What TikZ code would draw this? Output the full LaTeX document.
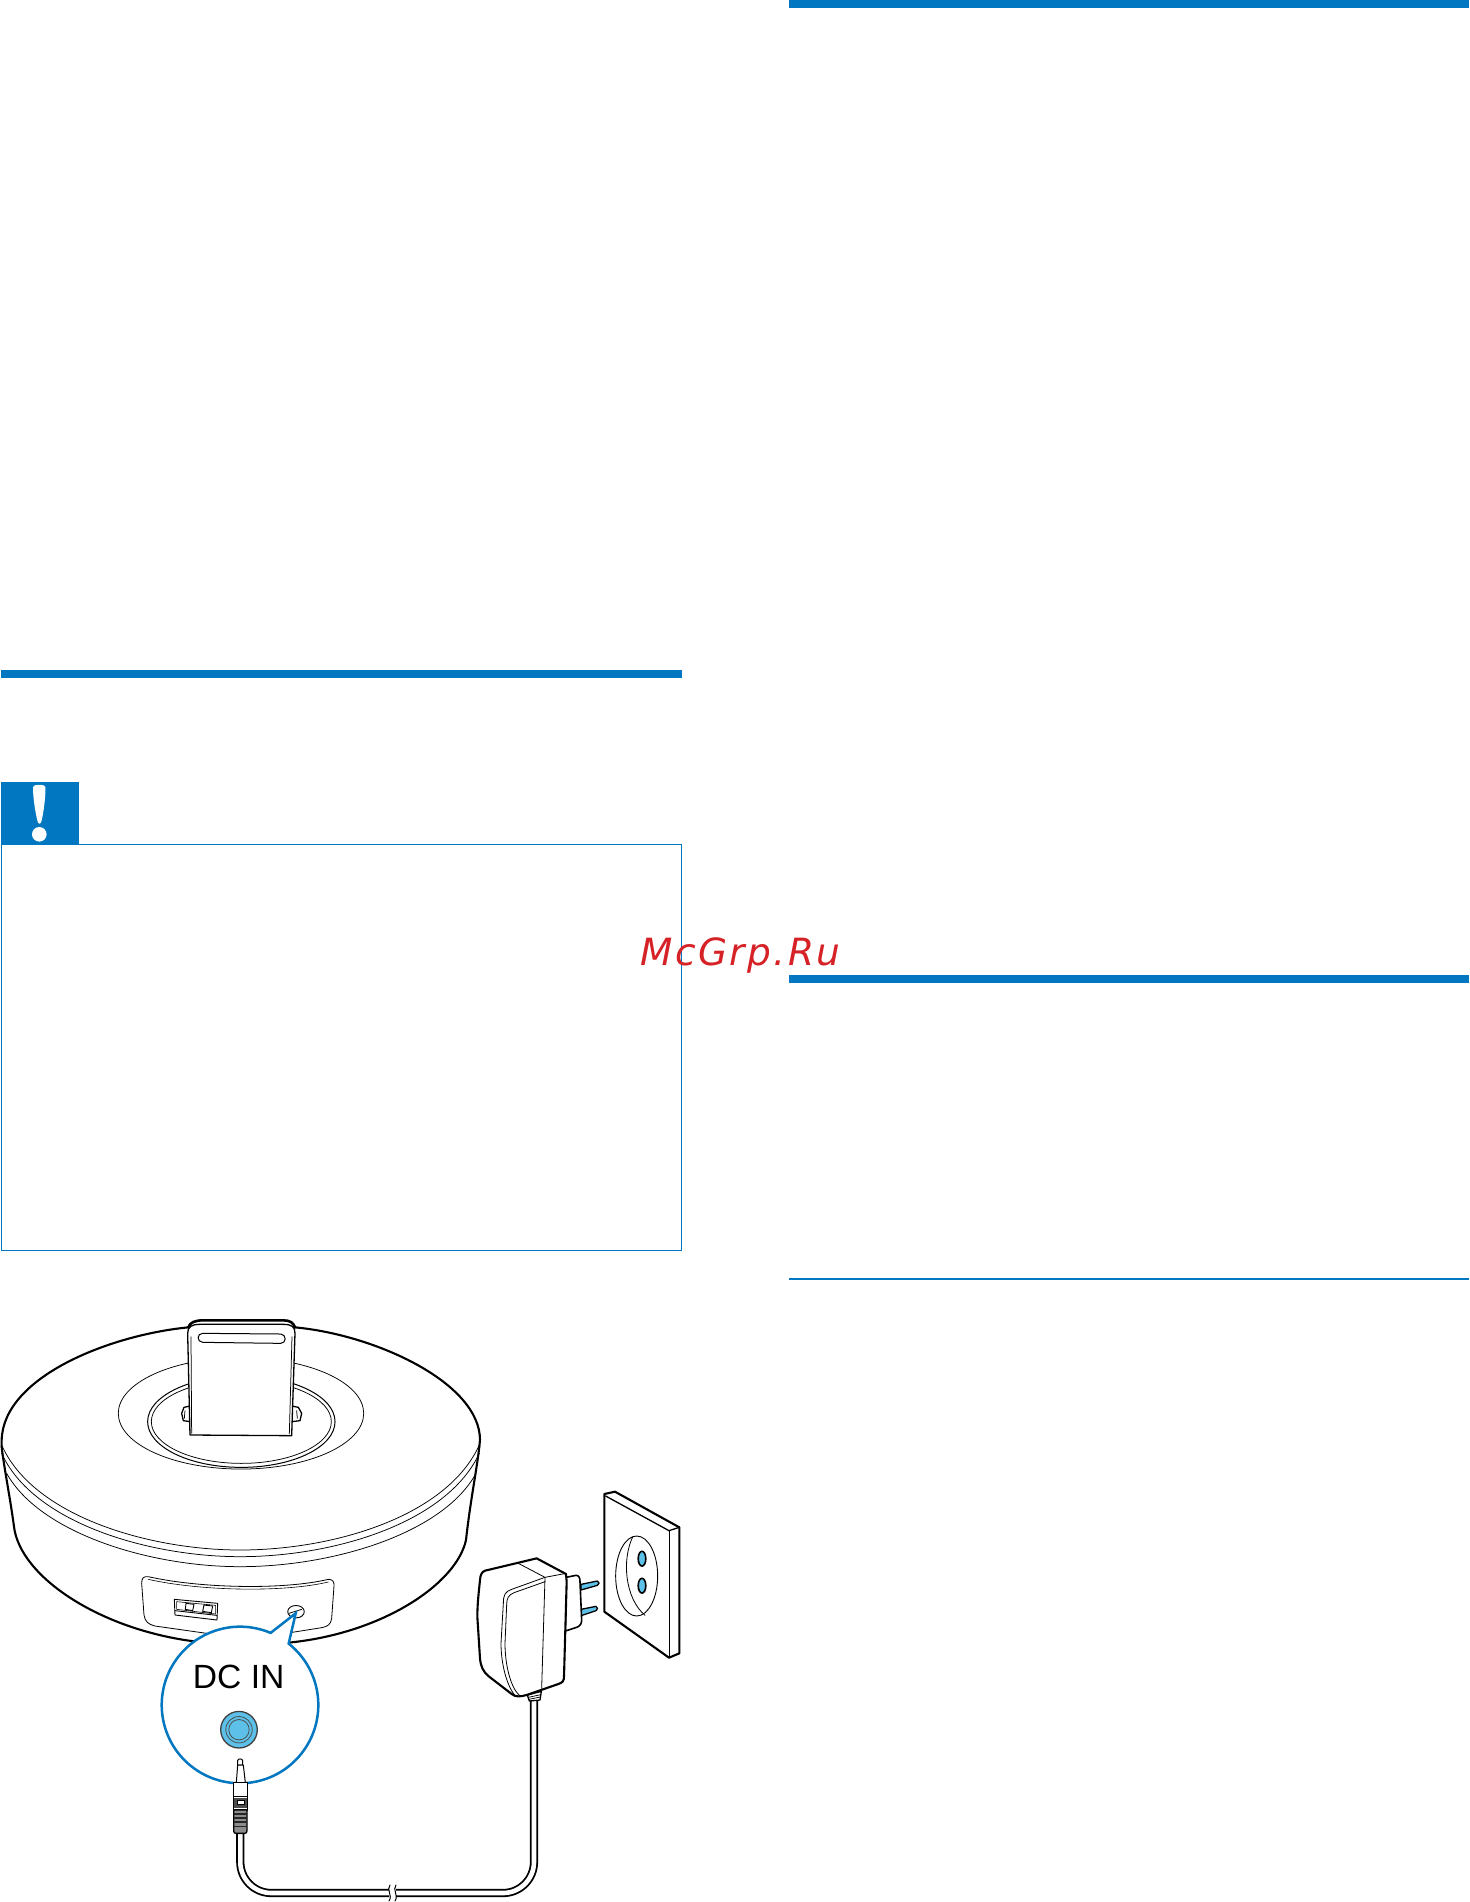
\documentclass[tikz,border=0pt]{standalone}
\usepackage{fontspec}
\setmainfont{Liberation Sans}
\newfontfamily\wmfont[LetterSpace=6.3]{DejaVu Sans}
\definecolor{pblue}{RGB}{0,119,192}
\definecolor{lblue}{RGB}{92,192,232}
\definecolor{wmred}{RGB}{214,34,38}
\tikzset{
  heavy/.style={line width=2.1pt,line join=round,line cap=round},
  medium/.style={line width=1.3pt,line join=round,line cap=round},
  fine/.style={line width=0.75pt,line join=round,line cap=round},
  barfill/.style={fill=pblue,draw=none},
  rule/.style={draw=pblue,line width=1pt},
  cablepath/.style={line width=1.8pt,double=white,double distance=4.6pt,rounded corners=31pt},
  cropA/.style={x=0.33333pt,y=-0.33333pt,shift={(0pt,-1290pt)}},
  cropB/.style={x=0.33333pt,y=-0.33333pt,shift={(130pt,-1580pt)}},
  cropC/.style={x=0.33333pt,y=-0.33333pt,shift={(440pt,-1470pt)}}
}
\begin{document}
\begin{tikzpicture}[x=1pt,y=-1pt]
\useasboundingbox (0,0) rectangle (1469,1902);
\fill[white] (0,0) rectangle (1469,1902);
% bars and rules
\fill[barfill] (789,0) rectangle (1469,8);
\fill[barfill] (1,670) rectangle (682,678);
\fill[barfill] (789,975) rectangle (1469,983);
\draw[rule,line width=1.1pt] (789,1279) -- (1469,1279);
\draw[rule] (1.5,844.5) rectangle (681.5,1250.5);
\fill[barfill] (1,782) rectangle (79,844.5);
\fill[white] (33,787) .. controls (33,784) and (45.5,784) .. (45.5,787) .. controls (45.5,800) and (43,815) .. (41.5,821) .. controls (41,824.5) and (38,824.5) .. (37.5,821) .. controls (36,815) and (33,800) .. (33,787) -- cycle;
\fill[white] (39.3,834.3) circle[radius=7.3pt];
% device
\begin{scope}[cropA]
\draw[heavy] (565,112) .. controls (330,135) and (10,260) .. (5,450) -- (5,470);
\draw[heavy] (885,112) .. controls (1130,135) and (1440,280) .. (1440,450) -- (1438,470);
\draw[fine] (723,370) ellipse[x radius=122.7pt,y radius=55.7pt];
\draw[medium,line width=1pt] (724,395) ellipse[x radius=93.7pt,y radius=45.7pt];
\draw[fine] (724,395) ellipse[x radius=90pt,y radius=41.7pt];
% knobs
\draw[medium,fill=white] (570,348) -- (552,352) -- (545,370) -- (550,392) -- (572,395) -- cycle;
\draw[fine] (555,362) -- (553,385);
\draw[medium,fill=white] (875,348) -- (895,352) -- (905,370) -- (900,392) -- (875,395) -- cycle;
\draw[fine] (890,362) -- (892,385);
% dock
\draw[medium,fill=white] (570,435) -- (563,130) .. controls (563,110) and (575,103) .. (600,103) -- (850,103) .. controls (875,103) and (885,110) .. (885,130) -- (875,437) -- cycle;
\draw[heavy,line width=2.6pt] (565,112) .. controls (570,97) and (585,91) .. (610,91) -- (850,91) .. controls (870,91) and (880,98) .. (885,112);
\draw[fine] (575,430) -- (573,140);
\draw[fine] (868,432) -- (876,140);
\draw[medium,line width=1pt] (608,130) -- (842,132) .. controls (860,133) and (860,160) .. (842,160) -- (608,157) .. controls (590,156) and (590,130) .. (608,130) -- cycle;
% body
\draw[heavy] (5,470) .. controls (10,520) and (30,620) .. (42,710) .. controls (60,860) and (300,1020) .. (590,1055);
\draw[heavy] (1438,470) .. controls (1430,540) and (1410,640) .. (1398,750) .. controls (1370,880) and (1150,1030) .. (865,1058);
\draw[fine] (5,465) .. controls (100,680) and (450,780) .. (720,780) .. controls (1000,780) and (1340,680) .. (1438,465);
\draw[fine] (5,490) .. controls (100,700) and (450,800) .. (720,800) .. controls (1000,800) and (1340,700) .. (1438,490);
\draw[fine] (20,550) .. controls (120,730) and (450,830) .. (720,830) .. controls (1000,830) and (1330,730) .. (1428,550);
% panel
\draw[fine,line width=0.8pt] (425,880) .. controls (425,865) and (430,858) .. (445,860) .. controls (600,895) and (850,900) .. (985,868) .. controls (998,868) and (1003,875) .. (1002,888) -- (995,985) .. controls (993,1005) and (980,1010) .. (965,1013) -- (870,1028);
\draw[fine,line width=0.8pt] (425,880) -- (432,975) .. controls (435,995) and (445,1003) .. (465,1008) -- (620,1030);
\draw[fine,line width=0.6pt] (445,868) .. controls (600,903) and (850,908) .. (985,876);
% usb
\draw[fine,line width=0.9pt,fill=white] (523,928) -- (653,940) -- (651,990) -- (525,975) -- cycle;
\draw[fine,line width=0.6pt] (530,935) -- (647,946) -- (647,972) -- (530,958) -- cycle;
\draw[fine,line width=0.9pt] (526,962) -- (650,976);
\draw[fine,line width=0.9pt] (558,940) -- (582,943) -- (578,962) -- (556,958) -- cycle;
\draw[fine,line width=0.9pt] (612,945) -- (638,948) -- (634,968) -- (608,964) -- cycle;
% jack
\draw[fine,line width=0.9pt] (888,965) ellipse[x radius=8.3pt,y radius=6.2pt];
\draw[fine] (867,970) -- (905,958);
\end{scope}
% callout
\draw[pblue,line width=2.5pt,fill=white,line join=miter] (288.65,1643.6) arc[start angle=51.6,end angle=-293,radius=78.3pt] -- (295.7,1613.3) -- cycle;
\node[font=\fontsize{33.6}{33.6}\selectfont,text=black,inner sep=0pt,anchor=center] (dcin) at (238.7,1677) {DC IN};
\draw[line width=1.3pt,draw=black!75,fill=lblue] (239,1729.7) circle[radius=18.3pt];
\draw[fine,draw=black!70] (239,1729.7) circle[radius=13.2pt];
\draw[fine,draw=black!70] (239,1729.7) circle[radius=10.2pt];
% cable
\coordinate (jackcable) at (240.3,1825);
\coordinate (cornerL) at (240.3,1893);
\coordinate (cornerR) at (534,1893);
\coordinate (adaptercable) at (534,1695);
\draw[cablepath] (jackcable) -- (cornerL) -- (cornerR) -- (adaptercable);
\fill[white] (389,1886) rectangle (395.5,1900);
\draw[fine,line width=1pt] (390,1885) .. controls (386,1890) and (393,1895) .. (389,1901);
\draw[fine,line width=1pt] (396,1885) .. controls (392,1890) and (399,1895) .. (395,1901);
% plug
\begin{scope}[cropB]
\draw[medium,line width=1pt,fill=white] (323,555) -- (323,542) .. controls (323,535) and (338,535) .. (338,542) -- (338,555) -- cycle;
\draw[medium,line width=1pt,fill=white] (323,555) -- (319,608) -- (346,608) -- (340,555) -- cycle;
\draw[medium,fill=white] (310,608) -- (352,608) -- (352,650) -- (310,650) -- cycle;
\draw[medium,fill=white] (310,650) rectangle (352,690);
\fill[black!70] (312,655) rectangle (350,684);
\fill[white] (322,660) rectangle (342,672);
\draw[fine,draw=black] (322,660) rectangle (342,672);
\draw[medium,fill=black!45] (311,690) -- (351,690) -- (351,752) .. controls (351,758) and (348,760) .. (345,760) -- (317,760) .. controls (314,760) and (311,758) .. (311,752) -- cycle;
\foreach \yy in {700,712,724,738} \fill[black!85] (311,\yy) rectangle (351,\yy+4);
\end{scope}
% adapter and outlet
\begin{scope}[cropC]
% outlet
\draw[heavy,fill=white] (493,72) -- (525,65) -- (718,172) -- (718,550) -- (687,563) -- (493,425) -- cycle;
\draw[medium] (497,78) -- (687,182) -- (718,172);
\draw[fine] (687,182) -- (687,563);
\draw[fine,line width=0.9pt] (590,318) ellipse[x radius=21pt,y radius=40pt];
\draw[fine,line width=0.8pt] (578,201) .. controls (545,270) and (555,385) .. (615,436);
\draw[medium,line width=1.6pt,fill=lblue] (606,266) ellipse[x radius=3.8pt,y radius=7.4pt];
\draw[medium,line width=1.6pt,fill=lblue] (606,347) ellipse[x radius=3.8pt,y radius=7.4pt];
% pins
\draw[medium,fill=lblue] (423,343) -- (472,333) .. controls (479,336) and (479,343) .. (472,346) -- (423,360) -- cycle;
\draw[medium,fill=lblue] (423,418) -- (468,409) .. controls (474,412) and (474,419) .. (468,422) -- (423,437) -- cycle;
% plug body
\draw[medium,line width=1.6pt,fill=white] (378,322) -- (408,316) .. controls (418,316) and (420,325) .. (420,335) -- (425,450) .. controls (425,462) and (420,468) .. (410,472) -- (376,483) -- cycle;
% strain relief
\draw[medium,fill=white] (262,675) -- (304,664) -- (300,690) -- (268,693) -- cycle;
\draw[fine] (265,682) -- (302,674);
\draw[fine] (266,688) -- (301,681);
% main housing
\draw[heavy,fill=white] (135,302) -- (290,265) -- (378,312) -- (380,335) -- (372,620) .. controls (372,632) and (368,638) .. (355,642) -- (260,675) .. controls (240,680) and (228,682) .. (215,672) -- (145,618) .. controls (130,605) and (122,590) .. (120,565) -- (112,440) .. controls (112,400) and (117,360) .. (120,330) .. controls (121,315) and (125,306) .. (135,302) -- cycle;
\draw[fine,line width=0.8pt] (235,280) -- (315,322) -- (305,655);
\draw[fine,line width=0.8pt] (190,400) .. controls (190,375) and (195,365) .. (215,358) -- (315,322) -- (378,310);
\draw[fine,line width=0.8pt] (200,405) .. controls (200,385) and (205,375) .. (222,368) -- (315,335);
\draw[fine,line width=0.8pt] (190,400) -- (183,520) .. controls (183,580) and (200,650) .. (228,680);
\draw[fine,line width=0.8pt] (200,405) -- (195,520) .. controls (195,580) and (210,650) .. (238,676);
\end{scope}
% watermark
\node[font=\wmfont\itshape\fontsize{37.5}{37.5}\selectfont,text=wmred,inner sep=0pt,anchor=base west] (watermark) at (640.5,965) {McGrp.Ru};
\end{tikzpicture}
\end{document}
